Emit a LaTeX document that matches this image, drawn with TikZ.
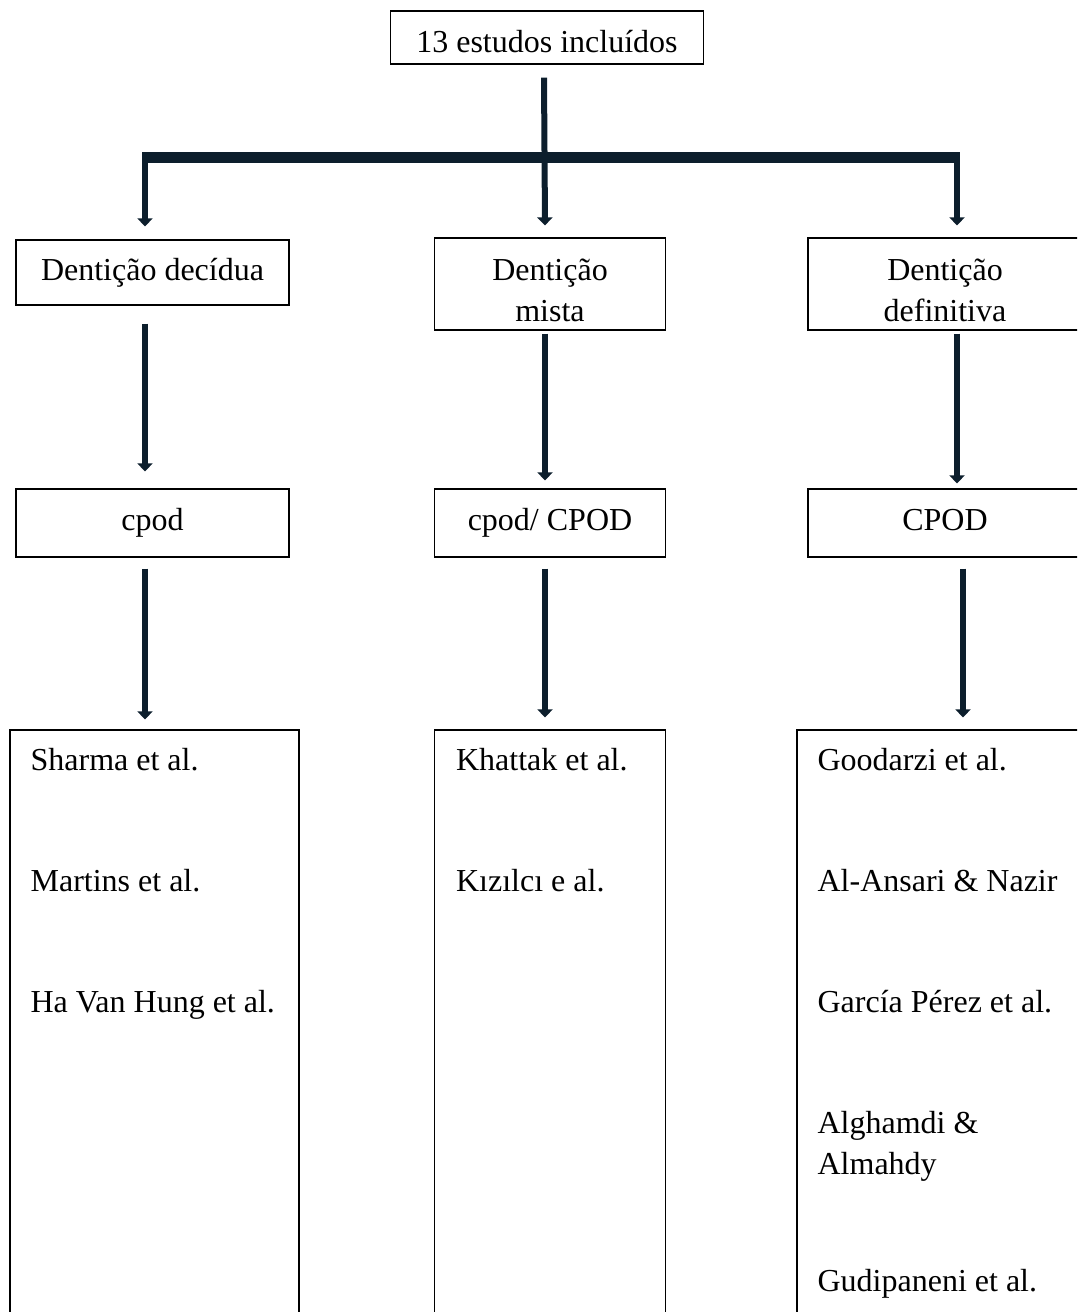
\documentclass[tikz,border=0pt]{standalone}
\usepackage{fontspec}
\setmainfont{Liberation Serif}
\usetikzlibrary{positioning, arrows.meta}
\definecolor{arrowblue}{RGB}{12,30,44}

\begin{document}
\begin{tikzpicture}[x=1pt,y=-1pt]
\tikzset{block/.style={rectangle,draw,line width=1.2pt,inner sep=0pt,align=center,font=\fontsize{32}{41}\selectfont},
  flow/.style={line width=6pt,color=arrowblue,-{Triangle[width=15pt,length=8pt]}},
  names/.style={align=left,inner sep=0pt,anchor=north west,font=\fontsize{32}{41}\selectfont}}

\clip (0,0) rectangle (1077,1312);

  \node [block, minimum width=313pt, minimum height=53pt, text height=29pt, text depth=0pt] (top) at (547,37.5) {13 estudos incluídos};

  \node [block, minimum width=273pt, minimum height=65pt] (decidua) at (152.5,272.5) {Dentição decídua};
  \node [block, minimum width=231pt, minimum height=92pt, text height=75pt, text depth=0pt] (mista) at (550,284) {Dentição\\mista};
  \node [block, minimum width=274pt, minimum height=92pt, text height=75pt, text depth=0pt] (definitiva) at (945,284) {Dentição\\definitiva};

  \node [block, minimum width=273pt, minimum height=68pt, text height=22pt, text depth=7pt] (cpod) at (152.5,523) {cpod};
  \node [block, minimum width=231pt, minimum height=68pt, text height=22pt, text depth=7pt] (cpodmix) at (550,523) {cpod/ CPOD};
  \node [block, minimum width=274pt, minimum height=68pt, text height=22pt, text depth=7pt] (cpodperm) at (945,523) {CPOD};

  \node [block, minimum width=289pt, minimum height=640pt] (declist) at (154.5,1050) {};
  \node [block, minimum width=231pt, minimum height=640pt] (mixlist) at (550,1050) {};
  \node [block, minimum width=283pt, minimum height=640pt] (permlist) at (938.5,1050) {};

  \node [names, below right=19pt and 21pt of declist.north west] (decnames) {Sharma et al.\\[80pt]Martins et al.\\[80pt]Ha Van Hung et al.};
  \node [names, below right=19pt and 22pt of mixlist.north west] (mixnames) {Khattak et al.\\[80pt]Kızılcı e al.};
  \node [names, below right=19pt and 21pt of permlist.north west] (permnames) {Goodarzi et al.\\[80pt]Al-Ansari \& Nazir\\[80pt]García Pérez et al.\\[80pt]Alghamdi \&\\Almahdy\\[76pt]Gudipaneni et al.};

\coordinate (barleft) at (145,157);
\coordinate (barright) at (957,157);

\draw [line width=11pt, color=arrowblue] ([xshift=3pt]barleft) -- ([xshift=3pt]barright);
\draw [flow] ([xshift=-3pt,yshift=-13pt]top.south) -- ([xshift=-5pt,yshift=12pt]mista.north);
\draw [flow] ([yshift=5pt]barleft) -- ([xshift=-7.5pt,yshift=13pt]decidua.north);
\draw [flow] ([yshift=5pt]barright) -- ([xshift=12pt,yshift=12pt]definitiva.north);

\draw [flow] ([xshift=-7.5pt,yshift=-18pt]decidua.south) -- ([xshift=-7.5pt,yshift=17pt]cpod.north);
\draw [flow] ([xshift=-5pt,yshift=-3pt]mista.south) -- ([xshift=-5pt,yshift=8pt]cpodmix.north);
\draw [flow] ([xshift=12pt,yshift=-3pt]definitiva.south) -- ([xshift=12pt,yshift=5pt]cpodperm.north);

\draw [flow] ([xshift=-7.5pt,yshift=-11pt]cpod.south) -- ([xshift=-9.5pt,yshift=10pt]declist.north);
\draw [flow] ([xshift=-5pt,yshift=-11pt]cpodmix.south) -- ([xshift=-5pt,yshift=12pt]mixlist.north);
\draw [flow] ([xshift=18pt,yshift=-11pt]cpodperm.south) -- ([xshift=24.5pt,yshift=12pt]permlist.north);

\end{tikzpicture}
\end{document}
